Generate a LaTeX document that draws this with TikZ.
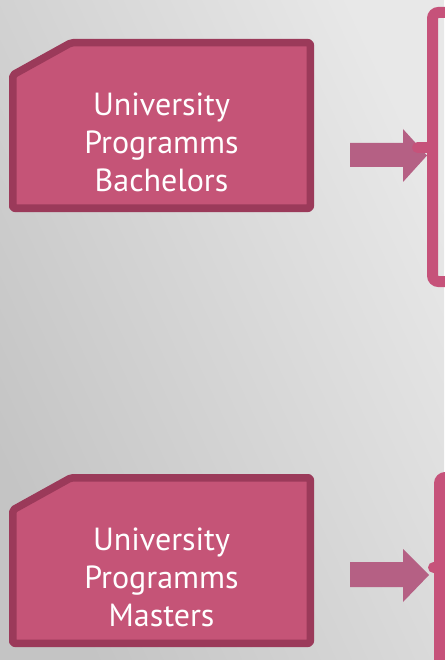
\documentclass[tikz,border=0pt]{standalone}
\usepackage{fontspec}
\setmainfont{PT Sans}
\definecolor{bgdark}{HTML}{C4C4C4}
\definecolor{bglight}{HTML}{E8E8E8}
\definecolor{boxfill}{HTML}{C55477}
\definecolor{boxedge}{HTML}{9B3A5A}
\definecolor{arrowcol}{HTML}{B56084}
\definecolor{brackcol}{HTML}{C6527A}
\tikzset{
  progbox/.style={draw=boxedge, fill=boxfill, line width=7.5pt, rounded corners=2pt, line join=round},
  progtext/.style={text=white, align=center, font=\fontsize{32}{38}\selectfont, inner sep=0pt},
  bracket/.style={draw=brackcol, line width=11pt, rounded corners=6pt},
  bigarrow/.style={fill=arrowcol, draw=none},
  stub/.style={draw=brackcol, line width=11pt, line cap=round}
}
\begin{document}
\begin{tikzpicture}[x=1pt,y=-1pt]
\useasboundingbox (0,0) rectangle (444,660);
\shade[left color=bgdark, right color=bglight, shading angle=115] (0,0) rectangle (444,660);
% brackets
\draw[bracket] (432.5,12.5) rectangle (480,281.5);
\draw[bracket] (439.5,477.5) rectangle (480,700);
% top box
\draw[progbox] (12.75,75) -- (71,42.75) -- (310.25,42.75) -- (310.25,208.25) -- (12.75,208.25) -- cycle;
\node[progtext] (bach) at (161.5,142) {University\\Programms\\Bachelors};
% bottom box
\draw[progbox] (12.75,510) -- (71,477.75) -- (310.25,477.75) -- (310.25,643.25) -- (12.75,643.25) -- cycle;
\node[progtext] (mast) at (161.5,577) {University\\Programms\\Masters};
% arrows
\coordinate (t1) at (427,155.5);
\coordinate (t2) at (429,575);
\fill[bigarrow] (350,143) -- (403,143) -- (403,129) -- (t1) -- (403,182) -- (403,167) -- (350,167) -- cycle;
\fill[bigarrow] (350,562) -- (403,562) -- (403,549) -- (t2) -- (403,602) -- (403,587) -- (350,587) -- cycle;
% stubs
\coordinate (s1a) at (417.5,147.5);
\coordinate (s1b) at (432,147.5);
\draw[stub] (s1a) -- (s1b);
\fill[brackcol] (433.5,567.5) circle (5.5);
\end{tikzpicture}
\end{document}
